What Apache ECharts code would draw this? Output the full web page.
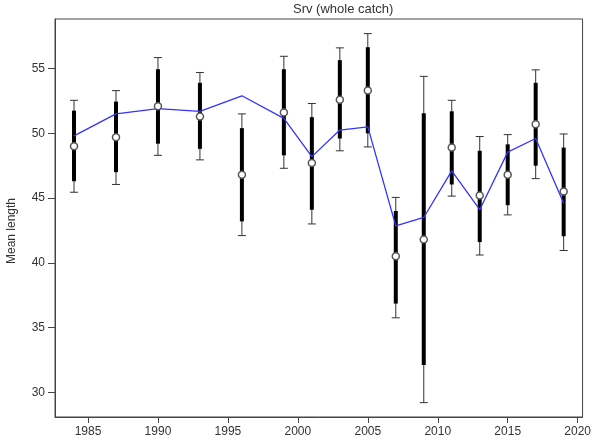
<!DOCTYPE html>
<html>
<head>
<meta charset="utf-8">
<script src="https://cdn.jsdelivr.net/npm/echarts@6/dist/echarts.min.js"></script>
<style>
  html, body { margin: 0; padding: 0; background: #fff; }
  #chart { width: 594px; height: 444px; }
</style>
</head>
<body>
<div id="chart"></div>
<script>
// Survey years
const years = [1984, 1987, 1990, 1993, 1996, 1999, 2001, 2003, 2005, 2007, 2009, 2011, 2013, 2015, 2017, 2019];
// Observed mean length
const meanLength = [49.0, 49.7, 52.1, 51.3, 46.8, 51.6, 47.7, 52.6, 53.3, 40.5, 41.8, 48.9, 45.2, 46.8, 50.7, 45.5];
// Fitted mean length (blue line)
const fittedLength = [49.8, 51.5, 51.9, 51.7, 52.9, 51.15, 48.2, 50.25, 50.5, 42.85, 43.5, 47.1, 44.1, 48.55, 49.6, 44.6];
// Inner interval (thick bar)
const innerLow  = [46.3, 47.0, 49.2, 48.8, 43.2, 48.3, 44.1, 49.6, 50.0, 36.85, 32.1, 46.05, 41.6, 44.45, 47.5, 42.05];
const innerHigh = [51.75, 52.45, 54.95, 53.9, 50.4, 54.95, 51.25, 55.65, 56.65, 44.0, 51.55, 51.7, 48.65, 49.15, 53.9, 48.9];
// Outer interval (thin whisker with caps)
const outerLow  = [45.45, 46.05, 48.3, 47.95, 42.1, 47.3, 43.0, 48.65, 48.95, 35.75, 29.2, 45.15, 40.6, 43.7, 46.5, 40.95];
const outerHigh = [52.55, 53.3, 55.85, 54.7, 51.5, 55.95, 52.3, 56.6, 57.7, 45.05, 54.4, 52.55, 49.75, 49.9, 54.9, 49.95];
// Axis tick labels
const xTicks = [1985, 1990, 1995, 2000, 2005, 2010, 2015, 2020];
const yTicks = [30, 35, 40, 45, 50, 55];

const titleText = 'Srv (whole catch)';
const yAxisTitle = 'Mean length';

const intervalData = years.map((y, i) => [y, outerLow[i], innerLow[i], innerHigh[i], outerHigh[i]]);
const fittedData = years.map((y, i) => [y, fittedLength[i]]);
const meanData = years.map((y, i) => [y, meanLength[i]]);

const font = 'Liberation Sans, Arial, Helvetica, sans-serif';
const textColor = '#333';
const axisColor = '#444';

const chart = echarts.init(document.getElementById('chart'), null, { renderer: 'canvas' });

chart.setOption({
  animation: false,
  backgroundColor: '#fff',
  grid: {
    left: 55, right: 3, top: 19, bottom: 27,
    show: true, borderColor: axisColor, borderWidth: 1, backgroundColor: 'transparent'
  },
  xAxis: {
    type: 'value',
    min: 1982.64, max: 2020.35,
    splitLine: { show: false },
    axisLine: { show: true, onZero: false, lineStyle: { color: axisColor, width: 1 } },
    axisTick: { show: true, length: 6, customValues: xTicks, lineStyle: { color: axisColor } },
    axisLabel: {
      customValues: xTicks, margin: 9, color: textColor, fontSize: 12, fontFamily: font,
      formatter: v => String(Math.round(v))
    },
  },
  yAxis: {
    type: 'value',
    min: 28.09, max: 58.83,
    splitLine: { show: false },
    axisLine: { show: true, onZero: false, lineStyle: { color: axisColor, width: 1 } },
    axisTick: { show: true, length: 7, customValues: yTicks, lineStyle: { color: axisColor } },
    axisLabel: {
      customValues: yTicks, margin: 10, color: textColor, fontSize: 12, fontFamily: font,
      formatter: v => String(Math.round(v))
    },
  },
  graphic: [
    {
      type: 'text', left: 293, top: 3,
      style: { text: titleText, fill: textColor, font: '13px ' + font }
    },
    {
      type: 'text', x: 6, y: 231, rotation: Math.PI / 2,
      style: { text: yAxisTitle, fill: textColor, font: '12px ' + font, align: 'center', verticalAlign: 'top' }
    }
  ],
  series: [
    {
      type: 'custom',
      z: 2,
      data: intervalData,
      encode: { x: 0, y: [1, 2, 3, 4] },
      renderItem: function (params, api) {
        const x = api.value(0);
        const pOL = api.coord([x, api.value(1)]);
        const pIL = api.coord([x, api.value(2)]);
        const pIH = api.coord([x, api.value(3)]);
        const pOH = api.coord([x, api.value(4)]);
        const cap = 4;
        const thin = { stroke: '#333', lineWidth: 1 };
        return {
          type: 'group',
          children: [
            { type: 'line', shape: { x1: pOL[0], y1: pOL[1], x2: pOH[0], y2: pOH[1] }, style: thin },
            { type: 'line', shape: { x1: pOL[0] - cap, y1: pOL[1], x2: pOL[0] + cap, y2: pOL[1] }, style: thin },
            { type: 'line', shape: { x1: pOH[0] - cap, y1: pOH[1], x2: pOH[0] + cap, y2: pOH[1] }, style: thin },
            { type: 'line', shape: { x1: pIL[0], y1: pIL[1], x2: pIH[0], y2: pIH[1] }, style: { stroke: '#000', lineWidth: 4 } }
          ]
        };
      }
    },
    {
      type: 'line',
      z: 3,
      data: fittedData,
      showSymbol: false,
      symbol: 'none',
      lineStyle: { color: '#3333ff', width: 1.3 }
    },
    {
      type: 'scatter',
      z: 4,
      data: meanData,
      symbol: 'circle',
      symbolSize: 7,
      itemStyle: { color: '#fff', borderColor: '#555', borderWidth: 1.5, opacity: 1 }
    }
  ]
});
</script>
</body>
</html>
